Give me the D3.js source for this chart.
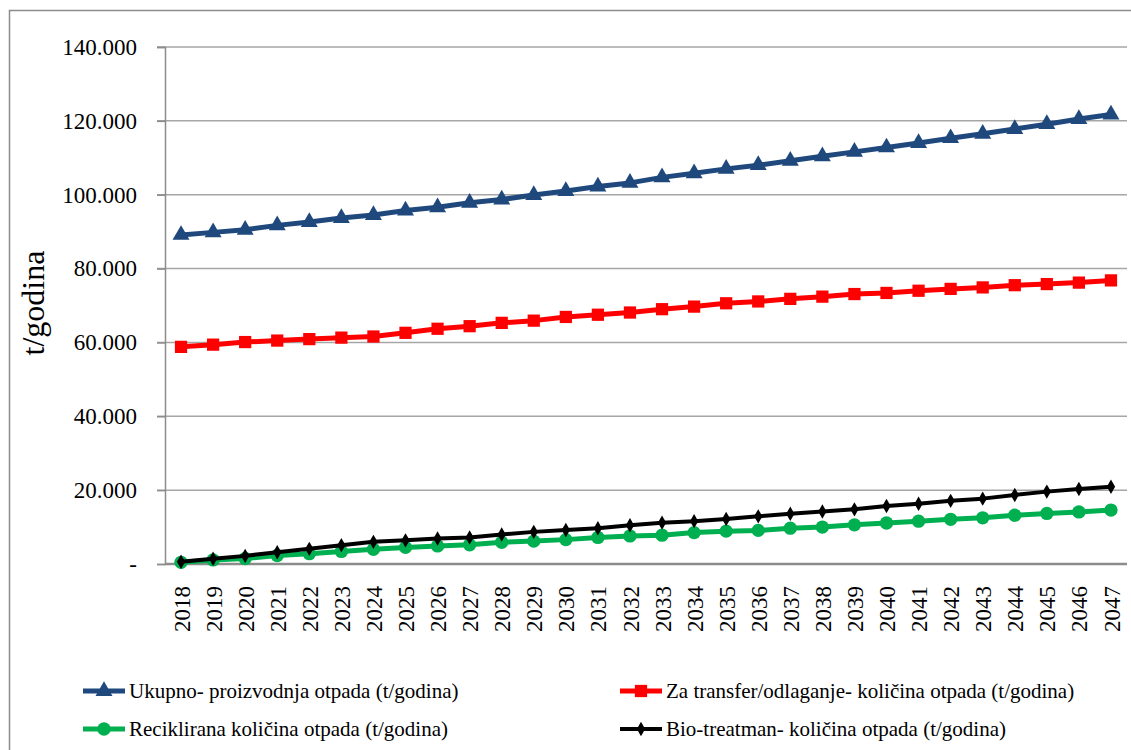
<!DOCTYPE html>
<html lang="hr">
  <head>
    <meta charset="UTF-8" />
    <title>Otpad</title>
    <style>
      body { margin: 0; background: #fff; }
      text { font-family: "Liberation Serif", "Times New Roman", serif; fill: #000; }
    </style>
  </head>
  <body>
    <div class="chart"></div>
    <script src="https://d3js.org/d3.v7.min.js"></script>
    <script>
      // podaci (u 1000 t) =================================================================
      const years = d3.range(2018, 2048).map(String);

      const ukupno = [89.1, 89.8, 90.5, 91.7, 92.6, 93.7, 94.5, 95.7, 96.6, 97.8, 98.7, 99.9, 101.0, 102.2, 103.2,
        104.7, 105.8, 107.0, 108.0, 109.2, 110.4, 111.6, 112.8, 114.0, 115.3, 116.5, 117.8, 119.1, 120.5, 121.7];
      const transfer = [58.8, 59.4, 60.1, 60.5, 60.9, 61.3, 61.6, 62.6, 63.7, 64.4, 65.3, 65.9, 66.9, 67.5, 68.1,
        69.0, 69.7, 70.6, 71.1, 71.8, 72.4, 73.1, 73.4, 74.0, 74.5, 74.9, 75.5, 75.8, 76.2, 76.8];
      const reciklirana = [0.45, 1.1, 1.5, 2.3, 2.8, 3.4, 4.0, 4.5, 4.9, 5.2, 5.9, 6.2, 6.6, 7.2, 7.6,
        7.8, 8.5, 8.9, 9.1, 9.7, 10.0, 10.6, 11.1, 11.6, 12.1, 12.5, 13.2, 13.7, 14.1, 14.6];
      const bio = [0.6, 1.4, 2.2, 3.2, 4.1, 5.1, 6.0, 6.4, 6.9, 7.2, 8.0, 8.7, 9.2, 9.7, 10.5,
        11.2, 11.6, 12.2, 12.9, 13.6, 14.2, 14.8, 15.7, 16.3, 17.1, 17.7, 18.7, 19.6, 20.3, 20.9];

      const yTicks = [0, 20000, 40000, 60000, 80000, 100000, 120000, 140000];

      const series = [
        { name: "Ukupno- proizvodnja otpada (t/godina)", values: ukupno, color: "#1F497D", symbol: d3.symbolTriangle, size: 125, width: 5 },
        { name: "Za transfer/odlaganje-  količina otpada (t/godina)", values: transfer, color: "#FF0000", symbol: d3.symbolSquare, size: 150, width: 5 },
        { name: "Reciklirana količina otpada (t/godina)", values: reciklirana, color: "#00B050", symbol: d3.symbolCircle, size: 140, width: 5 },
        { name: "Bio-treatman- količina otpada (t/godina)", values: bio, color: "#000000", symbol: d3.symbolDiamond, size: 60, width: 4 }
      ];

      // svg =================================================================
      const W = 1131, H = 750;
      const m = { left: 165, right: 1127, top: 47, bottom: 564 };

      const svg = d3.select(".chart").append("svg").attr("width", W).attr("height", H);

      // okvir
      svg.append("rect")
        .attr("x", 9.5).attr("y", 10.5)
        .attr("width", 1200).attr("height", 800)
        .attr("fill", "none").attr("stroke", "#8c8c8c").attr("stroke-width", 1.5);

      const x = d3.scalePoint().domain(years).range([m.left, m.right]).padding(0.5);
      const y = d3.scaleLinear().domain([0, 140000]).range([m.bottom, m.top]);

      // mreža
      svg.append("g")
        .selectAll("line")
        .data(yTicks.filter((d) => d > 0))
        .enter()
        .append("line")
        .attr("x1", m.left - 8).attr("x2", m.right)
        .attr("y1", (d) => y(d)).attr("y2", (d) => y(d))
        .attr("stroke", "#a6a6a6").attr("stroke-width", 1.5);

      // y os
      const yAxis = svg.append("g")
        .attr("transform", `translate(${m.left},0)`)
        .call(d3.axisLeft(y).tickValues(yTicks).tickSize(8).tickPadding(20)
          .tickFormat((d) => (d === 0 ? "-" : d3.format(",")(d).replace(/,/g, "."))));
      yAxis.select(".domain").attr("stroke", "#8c8c8c").attr("stroke-width", 1.5);
      yAxis.selectAll(".tick line").attr("stroke", "#8c8c8c").attr("stroke-width", 1.5);
      yAxis.selectAll(".tick text")
        .style("font-family", "'Liberation Serif', serif")
        .style("font-size", "23px").attr("fill", "#000");

      // x os
      const xAxis = svg.append("g")
        .attr("transform", `translate(0,${m.bottom})`)
        .call(d3.axisBottom(x).tickSize(0).tickPadding(0).tickSizeOuter(0));
      xAxis.select(".domain")
        .attr("d", `M${m.left},0H${m.right}`)
        .attr("stroke", "#8c8c8c").attr("stroke-width", 2.5);
      xAxis.selectAll(".tick text")
        .attr("transform", "translate(0,22) rotate(-90)")
        .attr("text-anchor", "end")
        .attr("dy", "0.35em")
        .attr("x", 0).attr("y", 0)
        .style("font-family", "'Liberation Serif', serif")
        .style("font-size", "23px").attr("fill", "#000");

      // naslov osi
      svg.append("text")
        .attr("transform", "translate(44,303) rotate(-90)")
        .attr("text-anchor", "middle")
        .style("font-size", "32px")
        .text("t/godina");

      // linije
      const line = d3.line()
        .x((d, i) => x(years[i]))
        .y((d) => y(d * 1000));

      series.forEach((s) => {
        const g = svg.append("g");
        g.append("path")
          .datum(s.values)
          .attr("d", line)
          .attr("fill", "none")
          .attr("stroke", s.color)
          .attr("stroke-width", s.width)
          .attr("stroke-linejoin", "round");
        g.selectAll("path.mark")
          .data(s.values)
          .enter()
          .append("path")
          .attr("class", "mark")
          .attr("transform", (d, i) => `translate(${x(years[i])},${y(d * 1000)})`)
          .attr("d", d3.symbol().type(s.symbol).size(s.size))
          .attr("fill", s.color);
      });

      // legenda
      const legPos = [[83, 691], [620, 691], [83, 729], [620, 729]];
      series.forEach((s, i) => {
        const [lx, ly] = legPos[i];
        const g = svg.append("g").attr("transform", `translate(${lx},${ly})`);
        g.append("line")
          .attr("x1", 0).attr("x2", 42)
          .attr("stroke", s.color).attr("stroke-width", s.width);
        g.append("path")
          .attr("transform", "translate(21,0)")
          .attr("d", d3.symbol().type(s.symbol).size(s.size))
          .attr("fill", s.color);
        g.append("text")
          .attr("x", 46).attr("dy", "0.35em")
          .style("font-size", "21px")
          .text(s.name);
      });
    </script>
  </body>
</html>
